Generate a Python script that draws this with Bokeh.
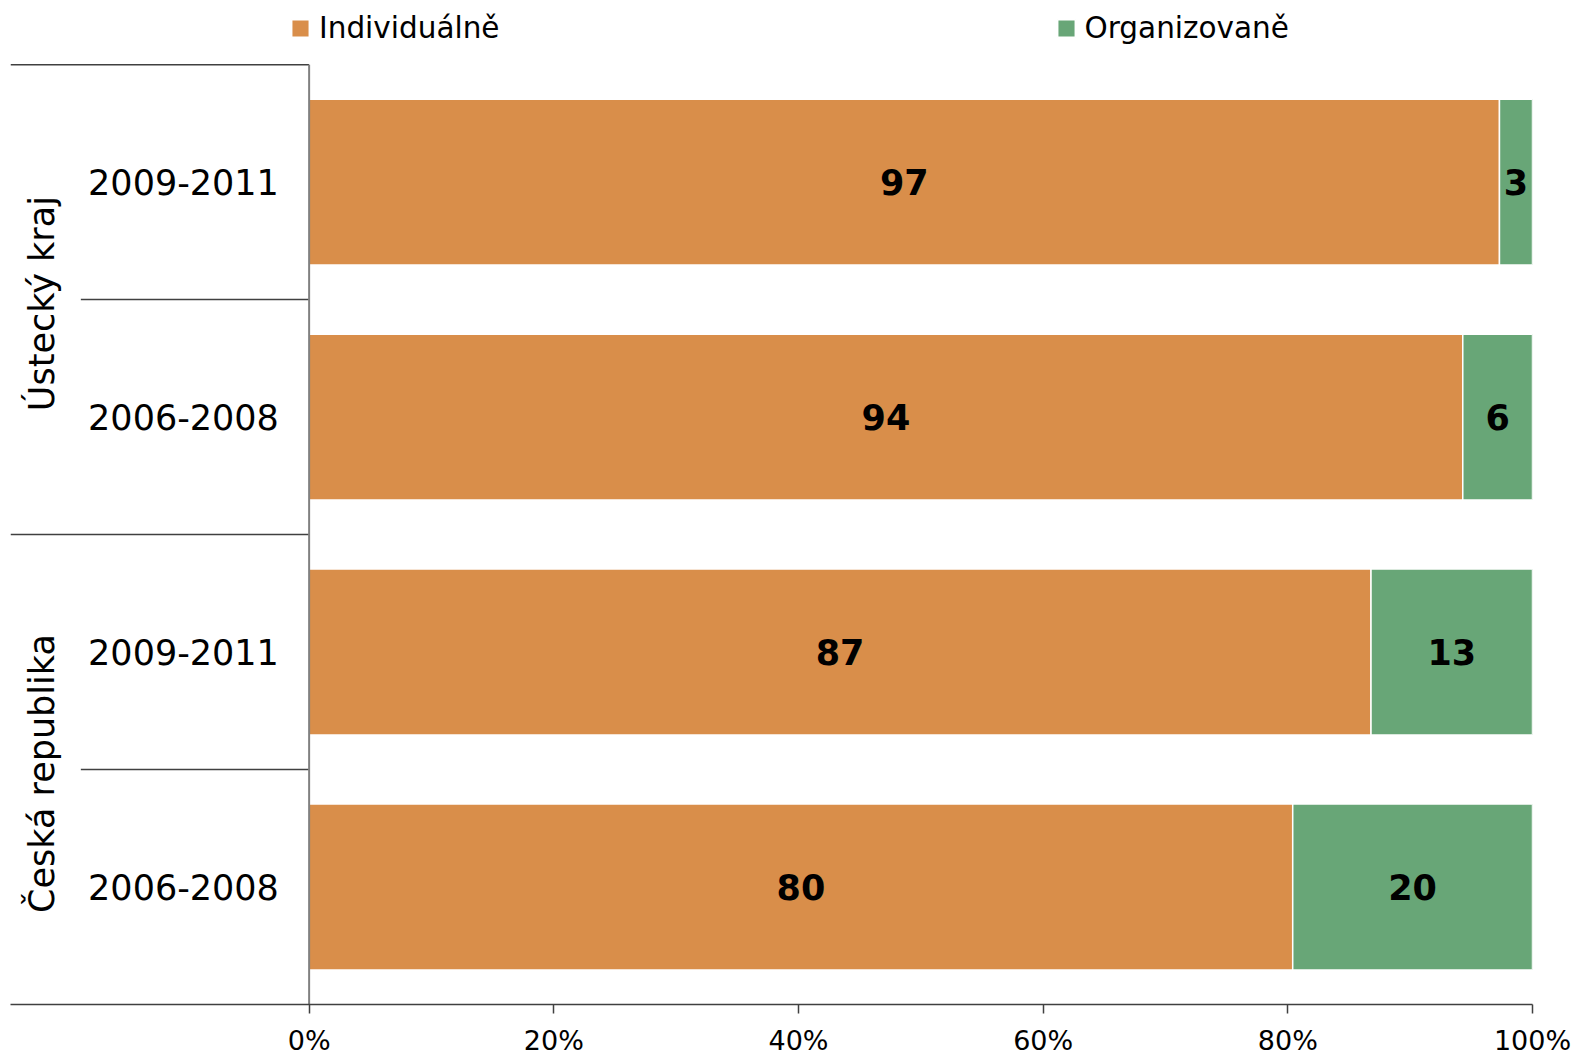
import math
from bokeh.plotting import figure
from bokeh.models import (Range1d, FixedTicker, PrintfTickFormatter, Legend,
                          LegendItem, ColumnDataSource)
from bokeh.core.properties import value
from bokeh.embed import file_html
from bokeh.resources import INLINE

# ---- data (bottom to top) ----
groups = ["Česká republika", "Česká republika", "Ústecký kraj", "Ústecký kraj"]
periods = ["2006-2008", "2009-2011", "2006-2008", "2009-2011"]
individualne = [80.4, 86.8, 94.3, 97.3]
organizovane = [19.6, 13.2, 5.7, 2.7]
series_names = ["Individuálně", "Organizovaně"]
x_ticks = [0, 20, 40, 60, 80, 100]

FONT = value("DejaVu Sans")
ORANGE = "#D98E4A"
GREEN = "#68A677"

ys = list(range(len(periods)))
totals = [a + b for a, b in zip(individualne, organizovane)]
src = ColumnDataSource(dict(
    y=ys,
    ind=individualne,
    total=totals,
    ind_mid=[v / 2 for v in individualne],
    org_mid=[a + b / 2 for a, b in zip(individualne, organizovane)],
    ind_lab=[str(round(v)) for v in individualne],
    org_lab=[str(round(v)) for v in organizovane],
    period=periods,
))

X0 = -24.41
p = figure(width=1572, height=1058,
           x_range=Range1d(X0, 100), y_range=Range1d(-0.5, 3.773),
           output_backend="svg", toolbar_location=None,
           y_axis_location=None,
           min_border_left=10, min_border_right=40,
           min_border_top=0, min_border_bottom=54)
p.outline_line_color = None
p.grid.visible = False
p.background_fill_color = "white"

ax = p.xaxis[0]
ax.ticker = FixedTicker(ticks=x_ticks)
ax.formatter = PrintfTickFormatter(format="%d%%")
ax.minor_tick_line_color = None
ax.major_tick_in = 0
ax.major_tick_out = 9
ax.axis_line_color = "#404040"
ax.axis_line_width = 1.5
ax.major_tick_line_color = "#404040"
ax.major_tick_line_width = 1.5
ax.major_label_text_font = "DejaVu Sans"
ax.major_label_text_font_size = "27px"
ax.major_label_text_color = "black"
ax.major_label_standoff = 11

BAR_H = 0.706
r1 = p.hbar(y="y", left=0, right="ind", height=BAR_H, source=src,
            fill_color=ORANGE, line_color="white", line_width=1.5)
r2 = p.hbar(y="y", left="ind", right="total", height=BAR_H, source=src,
            fill_color=GREEN, line_color="white", line_width=1.5)

for xcol, tcol in (("ind_mid", "ind_lab"), ("org_mid", "org_lab")):
    p.text(x=xcol, y="y", text=tcol, source=src, text_font=FONT,
           text_font_style="bold", text_font_size="35px", text_color="black",
           text_align="center", text_baseline="middle")

# category labels
p.text(x=-10.27, y="y", text="period", source=src, text_font=FONT,
       text_font_size="35px", text_color="black",
       text_align="center", text_baseline="middle")

# group labels
uniq = []
for g in groups:
    if g not in uniq:
        uniq.append(g)
gy = [sum(y for y, gg in zip(ys, groups) if gg == g) / groups.count(g) for g in uniq]
p.text(x=[-21.86] * len(uniq), y=gy, text=uniq, angle=math.pi / 2,
       text_font=FONT, text_font_size="35px", text_color="black",
       text_align="center", text_baseline="middle", y_offset=4)

# separators
lx0, ly = [], []
n = len(periods)
for i in range(1, n + 1):
    b = i - 0.5
    if i == n or groups[i] != groups[i - 1]:
        lx0.append(X0)
    else:
        lx0.append(-18.66)
    ly.append(b)
p.segment(x0=lx0, y0=ly, x1=[0] * len(ly), y1=ly,
          line_color="#404040", line_width=1.5)

# vertical axis line at 0%
p.segment(x0=[0], y0=[-0.5], x1=[0], y1=[n - 0.5],
          line_color="#808080", line_width=2)

legend = Legend(items=[LegendItem(label=series_names[0], renderers=[r1]),
                       LegendItem(label=series_names[1], renderers=[r2])],
                orientation="horizontal", location=(279, 959),
                spacing=555, glyph_width=22, glyph_height=22,
                label_standoff=8, padding=0, margin=0,
                border_line_color=None, background_fill_alpha=0,
                label_text_font="DejaVu Sans", label_text_font_size="29.5px",
                label_text_color="black")
p.add_layout(legend)

open("out.html", "w").write(file_html(p, INLINE))
